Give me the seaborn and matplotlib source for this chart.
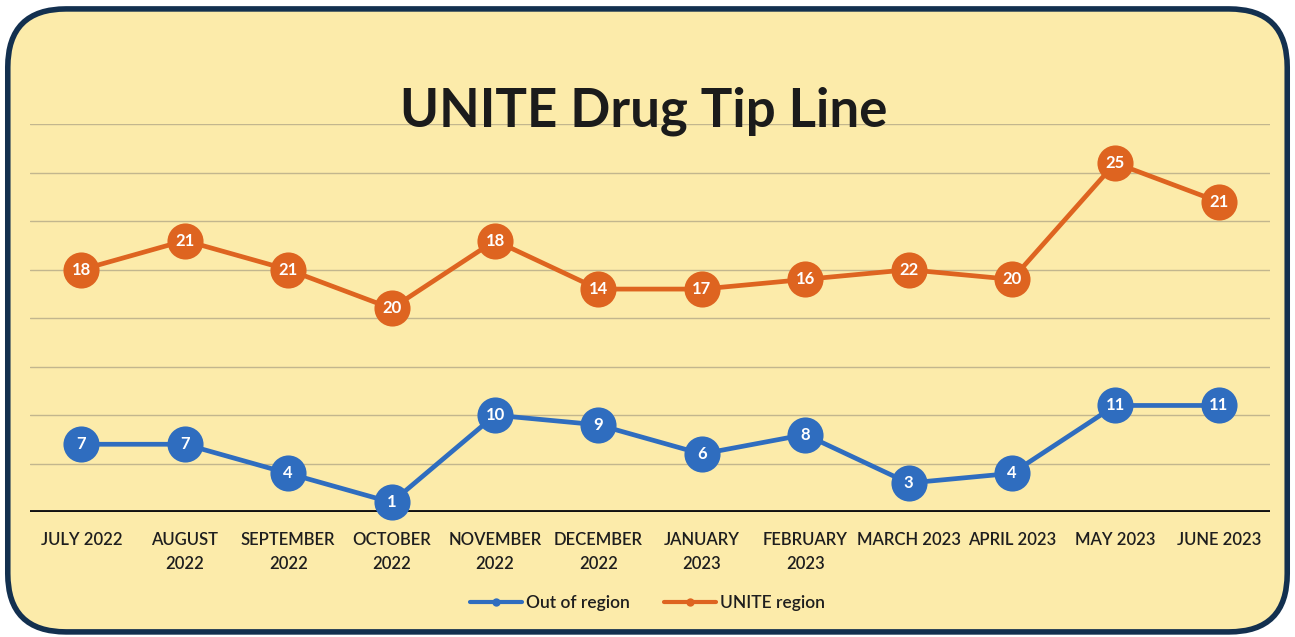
import numpy as np
import pandas as pd
import seaborn as sns
from matplotlib import pyplot as plt
from matplotlib.patches import FancyBboxPatch

months = ['JULY 2022', 'AUGUST\n2022', 'SEPTEMBER\n2022', 'OCTOBER\n2022', 'NOVEMBER\n2022', 'DECEMBER\n2022',
          'JANUARY\n2023', 'FEBRUARY\n2023', 'MARCH 2023', 'APRIL 2023', 'MAY 2023', 'JUNE 2023']
out_of_region = [7, 7, 4, 1, 10, 9, 6, 8, 3, 4, 11, 11]
unite_region = [18, 21, 21, 20, 18, 14, 17, 16, 22, 20, 25, 21]

BG = '#FCEBAA'
BLUE = '#2F6DBF'
ORANGE = '#DE6420'


def build_frame():
    # stacked line chart: UNITE series sits on top of the out-of-region one
    stacked = np.array(out_of_region) + np.array(unite_region)
    df = pd.DataFrame({
        'x': list(range(len(months))) * 2,
        'pos': list(out_of_region) + list(stacked),
        'label': out_of_region + unite_region,
        'series': ['Out of region'] * len(months) + ['UNITE region'] * len(months),
    })
    return df


def main():
    sns.set_style('white')
    plt.rcParams['font.family'] = ['Lato', 'DejaVu Sans']

    df = build_frame()
    fig = plt.figure(figsize=(12.95, 6.37), dpi=100)
    fig.patch.set_facecolor('white')
    frame = FancyBboxPatch((0.006, 0.008), 0.988, 0.978, boxstyle='round,pad=0,rounding_size=0.045',
                           transform=fig.transFigure, facecolor=BG, edgecolor='#13304F', linewidth=4,
                           mutation_aspect=1295 / 637, zorder=-10)
    fig.patches.append(frame)

    ax = fig.add_axes([0.023, 0.196, 0.958, 0.609])
    ax.set_facecolor('none')
    ax.set_xlim(-0.5, len(months) - 0.5)
    ax.set_ylim(0, 40)
    for y in range(5, 45, 5):
        ax.axhline(y, color='#C2B68E', linewidth=1, zorder=0)
    ax.axhline(0, color='#111111', linewidth=2.8, zorder=1)

    sns.lineplot(data=df, x='x', y='pos', hue='series', palette=[BLUE, ORANGE], marker='o',
                 markersize=26, linewidth=3.4, markeredgewidth=0, ax=ax, zorder=3, clip_on=False)
    for _, row in df.iterrows():
        ax.text(row['x'], row['pos'], str(row['label']), color='white', fontsize=12, fontweight='bold',
                ha='center', va='center', zorder=4)

    ax.set_xticks(range(len(months)))
    ax.set_xticklabels(months, fontsize=12, color='#1E1E1E', linespacing=1.65, fontweight='semibold')
    ax.tick_params(axis='x', length=0, pad=14)
    ax.set_yticks([])
    ax.set_xlabel('')
    ax.set_ylabel('')
    for s in ax.spines.values():
        s.set_visible(False)

    handles, labels = ax.get_legend_handles_labels()
    for h in handles:
        h.set_markersize(6)
        h.set_linewidth(3)
    leg = ax.legend(handles, labels, loc='center', bbox_to_anchor=(0.5, 0.053), bbox_transform=fig.transFigure,
                    ncol=2, frameon=False, fontsize=12.5, handlelength=3, handletextpad=0.2, columnspacing=2)
    for t in leg.get_texts():
        t.set_color('#1E1E1E')
        t.set_fontweight('semibold')

    fig.text(0.497, 0.825, 'UNITE Drug Tip Line', fontsize=38, fontweight='bold', color='#1B1B1B',
             ha='center', va='center')

    fig.savefig('out.png', dpi=100, facecolor=fig.get_facecolor())


if __name__ == '__main__':
    main()
